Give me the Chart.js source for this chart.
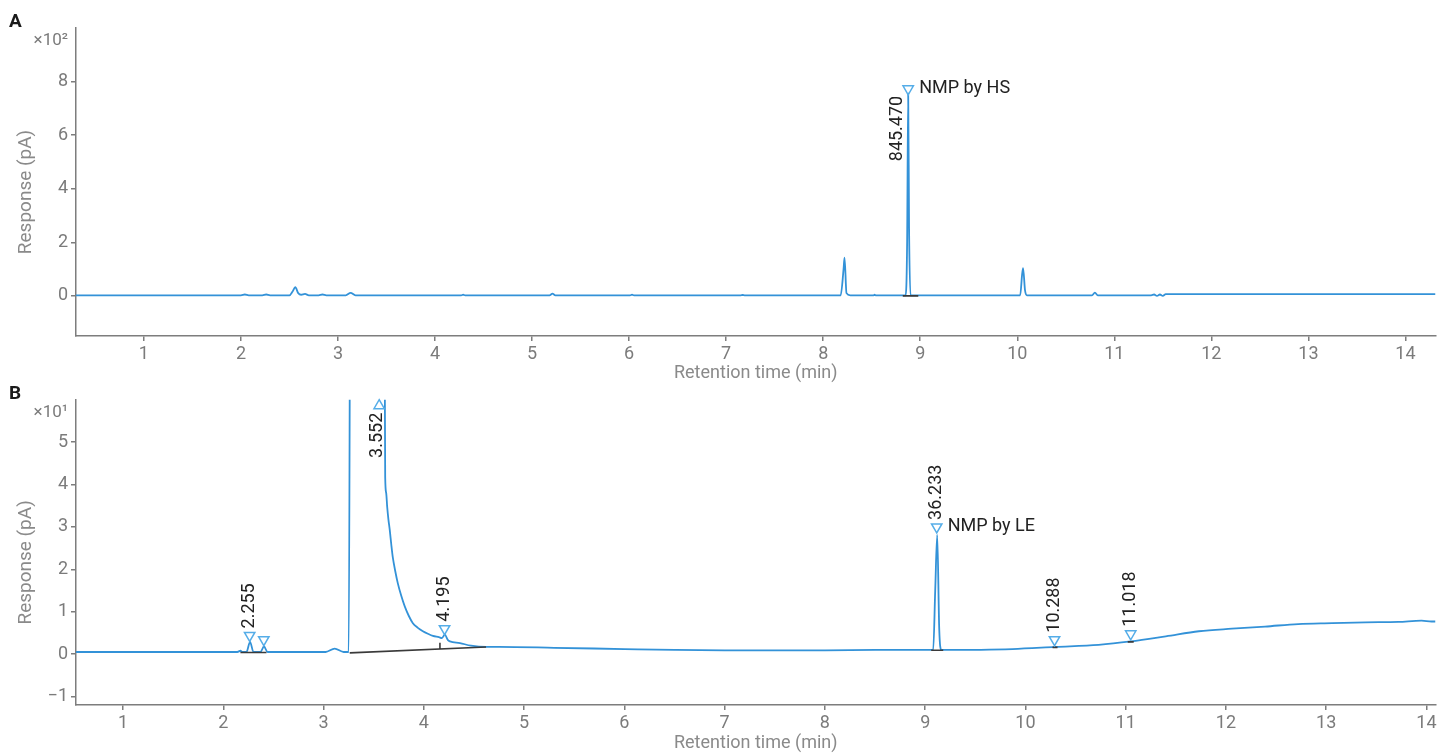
<!DOCTYPE html>
<html>
<head>
<meta charset="utf-8">
<script src="https://cdn.jsdelivr.net/npm/chart.js@4.4.1/dist/chart.umd.min.js"></script>
<style>
  body { margin: 0; background: #fff; }
  #wrap { position: relative; width: 1443px; height: 754px; }
  .panel { position: absolute; left: 0; width: 1443px; }
</style>
</head>
<body>
<div id="wrap">
  <div class="panel" style="top:0;height:386px"><canvas id="chartA"></canvas></div>
  <div class="panel" style="top:386px;height:368px"><canvas id="chartB"></canvas></div>
</div>
<script>
// Panel A: headspace chromatogram (response in x10^2 pA)
const timeA = [0.30, 2.00, 2.04, 2.08, 2.22, 2.26, 2.30, 2.50, 2.53, 2.56, 2.59, 2.62, 2.66, 2.70,
  2.80, 2.84, 2.88, 3.08, 3.13, 3.18, 4.27, 4.29, 4.31, 5.18, 5.21, 5.24, 6.01, 6.03, 6.05,
  7.15, 7.17, 7.19, 8.18, 8.21, 8.22, 8.24, 8.28, 8.52, 8.53, 8.54, 8.85, 8.865, 8.876, 8.885, 8.90,
  10.03, 10.05, 10.06, 10.08, 10.10, 10.77, 10.80, 10.83, 11.38, 11.41, 11.44, 11.47, 11.50, 11.53, 14.31];
const respA = [0.02, 0.02, 0.05, 0.02, 0.02, 0.05, 0.02, 0.02, 0.15, 0.32, 0.10, 0.04, 0.07, 0.02,
  0.02, 0.05, 0.02, 0.02, 0.11, 0.02, 0.02, 0.04, 0.02, 0.02, 0.08, 0.02, 0.02, 0.04, 0.02,
  0.02, 0.03, 0.02, 0.02, 1.00, 1.43, 0.10, 0.02, 0.02, 0.04, 0.02, 0.02, 2.00, 7.55, 2.50, 0.02,
  0.02, 0.80, 1.03, 0.20, 0.02, 0.02, 0.12, 0.02, 0.02, 0.05, 0.00, 0.05, 0.00, 0.06, 0.06];
const integTimeA = [8.82, 8.98];
const integRespA = [0.0, 0.0];
const markTimeA = [8.876];
const markRespA = [7.73];
const markLabelA = ['845.470'];
const markNameA = ['NMP by HS'];
const yTicksA = [0, 2, 4, 6, 8];

// Panel B: liquid extraction chromatogram (response in x10^1 pA)
const timeB = [0.53, 2.14, 2.17, 2.19, 2.23, 2.266, 2.30, 2.37, 2.405, 2.44, 3.02, 3.11, 3.20, 3.25,
  3.27, 3.60, 3.614, 3.624, 3.634, 3.646, 3.66, 3.675, 3.69, 3.715, 3.74, 3.775, 3.81, 3.85, 3.89,
  3.94, 3.99, 4.04, 4.09, 4.15, 4.18, 4.208, 4.24,
  4.26, 4.36, 4.47, 4.62, 4.75, 5.3, 6.0, 6.5, 7.0, 8.0, 8.5, 9.08, 9.10, 9.12, 9.14, 9.16,
  9.87, 10.3, 10.73, 11.05, 11.40, 11.73, 12.06, 12.39, 12.72, 13.06, 13.39, 13.72, 13.95, 14.05, 14.09];
const respB = [0.05, 0.05, 0.08, 0.05, 0.05, 0.29, 0.05, 0.05, 0.18, 0.05, 0.05, 0.13, 0.05, 0.05,
  12, 12, 4.17, 3.80, 3.47, 3.18, 2.92, 2.58, 2.28, 1.95, 1.67, 1.37, 1.12, 0.90, 0.73,
  0.62, 0.54, 0.48, 0.43, 0.40, 0.38, 0.46, 0.33,
  0.30, 0.26, 0.20, 0.17, 0.17, 0.15, 0.12, 0.10, 0.09, 0.09, 0.10, 0.10, 1.50, 2.81, 0.60, 0.10,
  0.12, 0.17, 0.22, 0.30, 0.42, 0.54, 0.60, 0.65, 0.71, 0.73, 0.75, 0.76, 0.79, 0.77, 0.77];
const integTimeB = [2.17, 2.43, null, 3.26, 4.62, null, 4.16, 4.16, null, 9.06, 9.18, null, 10.27, 10.32, null, 11.02, 11.08];
const integRespB = [0.04, 0.04, null, 0.03, 0.17, null, 0.12, 0.27, null, 0.09, 0.09, null, 0.16, 0.16, null, 0.29, 0.29];
const markTimeB = [2.262, 2.403, 3.554, 4.206, 9.115, 10.29, 11.05];
const markRespB = [0.44, 0.34, 5.86, 0.60, 3.00, 0.34, 0.48];
const markLabelB = ['2.255', '', '3.552', '4.195', '36.233', '10.288', '11.018'];
const markNameB = ['', '', '', '', 'NMP by LE', '', ''];
const yTicksB = [-1, 0, 1, 2, 3, 4, 5];

const xTicks = [1, 2, 3, 4, 5, 6, 7, 8, 9, 10, 11, 12, 13, 14];

const FONT = 'Roboto';
const LINE = '#3392d8';
const MARK = '#55ade8';
const AXIS = '#7d7d7d';
const TICK = '#7b7b7b';
const TITLE = '#8a8a8a';
const INK = '#222222';

function pts(xs, ys) {
  return xs.map((t, i) => ({ x: t, y: ys[i] }));
}

// rotated peak labels + compound names next to the markers
const peakLabels = {
  id: 'peakLabels',
  afterDatasetsDraw(chart, args, opts) {
    const { ctx, chartArea } = chart;
    const x = chart.scales.x, y = chart.scales.y;
    ctx.save();
    ctx.fillStyle = INK;
    ctx.font = '18px ' + FONT;
    ctx.textBaseline = 'middle';
    opts.times.forEach((t, i) => {
      const px = x.getPixelForValue(t);
      const py = y.getPixelForValue(opts.resps[i]);
      const text = opts.labels[i];
      if (text) {
        const w = ctx.measureText(text).width;
        ctx.save();
        if (py - chartArea.top > w + 10) {
          ctx.translate(px, py - 7);
          ctx.textAlign = 'left';
        } else if (py - chartArea.top < 12) {
          ctx.translate(px - 2, py + 7);
          ctx.textAlign = 'right';
        } else {
          ctx.translate(px - 11, py + 7);
          ctx.textAlign = 'right';
        }
        ctx.rotate(-Math.PI / 2);
        ctx.fillText(text, 0, 0);
        ctx.restore();
      }
      if (opts.names[i]) {
        ctx.textAlign = 'left';
        ctx.fillText(opts.names[i], px + 11, py);
      }
    });
    ctx.restore();
  }
};

// panel letter, axis multiplier and y title
const panelText = {
  id: 'panelText',
  afterDraw(chart, args, opts) {
    const { ctx, chartArea } = chart;
    ctx.save();
    ctx.textBaseline = 'middle';
    ctx.fillStyle = '#1a1a1a';
    ctx.font = 'bold 19px ' + FONT;
    ctx.textAlign = 'left';
    ctx.fillText(opts.letter, 9, chartArea.top - 6);
    ctx.fillStyle = TICK;
    ctx.font = '17px ' + FONT;
    ctx.textAlign = 'right';
    ctx.fillText(opts.mult, 68, chartArea.top + 13);
    ctx.translate(26, (chartArea.top + chartArea.bottom) / 2 + 10);
    ctx.rotate(-Math.PI / 2);
    ctx.textAlign = 'center';
    ctx.fillStyle = TITLE;
    ctx.font = '19px ' + FONT;
    ctx.fillText('Response (pA)', 0, 0);
    ctx.restore();
  }
};

function makeChart(id, cfg) {
  const upRot = cfg.markResp.map(v => (v > cfg.yMax - 0.3 ? 0 : 180));
  return new Chart(document.getElementById(id), {
    type: 'scatter',
    data: {
      datasets: [
        {
          data: pts(cfg.markTime, cfg.markResp),
          pointStyle: 'triangle',
          pointRotation: upRot,
          pointRadius: 6,
          borderColor: MARK,
          backgroundColor: 'rgba(255,255,255,0)',
          borderWidth: 1.5,
          showLine: false,
          clip: false,
          order: 0
        },
        {
          data: pts(cfg.integTime, cfg.integResp),
          borderColor: '#3a3a3a',
          borderWidth: 1.6,
          pointRadius: 0,
          showLine: true,
          spanGaps: false,
          order: 1
        },
        {
          data: pts(cfg.time, cfg.resp),
          borderColor: LINE,
          borderWidth: 1.8,
          pointRadius: 0,
          showLine: true,
          cubicInterpolationMode: 'monotone',
          order: 2
        }
      ]
    },
    options: {
      responsive: true,
      maintainAspectRatio: false,
      animation: false,
      devicePixelRatio: 1,
      layout: { padding: cfg.padding },
      plugins: {
        legend: { display: false },
        tooltip: { enabled: false },
        peakLabels: { times: cfg.markTime, resps: cfg.markResp, labels: cfg.markLabel, names: cfg.markName },
        panelText: { letter: cfg.letter, mult: cfg.mult }
      },
      scales: {
        x: {
          type: 'linear',
          min: cfg.xMin,
          max: cfg.xMax,
          grid: { drawOnChartArea: false, drawTicks: true, tickLength: 5, color: AXIS, lineWidth: 1.5 },
          border: { display: true, color: AXIS, width: 1.5 },
          afterBuildTicks: s => { s.ticks = xTicks.map(v => ({ value: v })); },
          ticks: { font: { family: FONT, size: 18 }, color: TICK, padding: 3, maxRotation: 0, autoSkip: false },
          title: { display: true, text: 'Retention time (min)', font: { family: FONT, size: 18 }, color: TITLE, padding: 0 },
          afterFit: s => { s.height = cfg.xHeight; }
        },
        y: {
          min: cfg.yMin,
          max: cfg.yMax,
          grid: { drawOnChartArea: false, drawTicks: true, tickLength: 5, color: AXIS, lineWidth: 1.5 },
          border: { display: true, color: AXIS, width: 1.5 },
          afterBuildTicks: s => { s.ticks = cfg.yTicks.map(v => ({ value: v })); },
          ticks: {
            font: { family: FONT, size: 18 }, color: TICK, padding: 3, autoSkip: false,
            callback: v => String(v).replace('-', '\u2212')
          },
          afterFit: s => { s.width = 76; }
        }
      }
    },
    plugins: [peakLabels, panelText]
  });
}

makeChart('chartA', {
  time: timeA, resp: respA, integTime: integTimeA, integResp: integRespA,
  markTime: markTimeA, markResp: markRespA, markLabel: markLabelA, markName: markNameA,
  yTicks: yTicksA, xMin: 0.30, xMax: 14.31, yMin: -1.5, yMax: 10,
  padding: { top: 28, left: 0, right: 3, bottom: 2 }, xHeight: 48,
  letter: 'A', mult: '\u00d710\u00b2'
});

makeChart('chartB', {
  time: timeB, resp: respB, integTime: integTimeB, integResp: integRespB,
  markTime: markTimeB, markResp: markRespB, markLabel: markLabelB, markName: markNameB,
  yTicks: yTicksB, xMin: 0.53, xMax: 14.09, yMin: -1.2, yMax: 6.0,
  padding: { top: 12, left: 0, right: 7, bottom: 0 }, xHeight: 49,
  letter: 'B', mult: '\u00d710\u00b9'
});
</script>
</body>
</html>
